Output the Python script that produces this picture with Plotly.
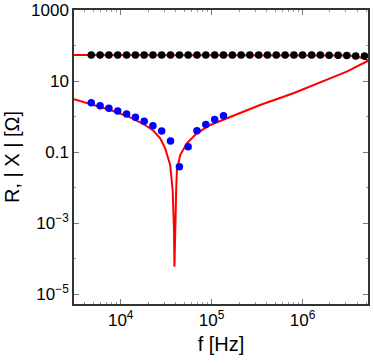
import plotly.graph_objects as go

# measured frequencies [Hz]
f_meas = [4740, 5930, 7410, 9270, 11600, 14500, 18100, 22600, 28200, 35300,
          44200, 55200, 69000, 86300, 108000, 135000, 169000, 211000, 263000, 329000,
          411000, 514000, 643000, 804000, 1000000, 1260000, 1570000, 1960000, 2460000,
          3070000, 3840000, 4800000]
# measured resistance R [Ohm]
R_meas = [54, 54, 54, 54, 54, 54, 54, 54, 54, 54,
          54, 54, 54, 54, 54, 54, 54, 54, 54, 54,
          54, 54, 54, 54, 54, 54, 54, 53, 53, 52, 51, 51]
# measured |X| [Ohm] (first 16 frequencies)
X_meas = [2.45, 2.02, 1.70, 1.43, 1.18, 0.95, 0.73, 0.55, 0.39, 0.204,
          0.0385, 0.141, 0.40, 0.60, 0.83, 1.05]

# model curves
f_R_model = [3062, 2512000, 3162000, 3802000, 4467000, 5284000]
R_model = [54, 54, 52.5, 50, 45, 38]

f_X_model = [3062, 4624, 7674, 12710, 17820, 22910, 27160, 30830, 33500, 34990,
             37240, 38550, 38990, 39540, 40740, 41500, 45080, 53330, 68710, 96390,
             146900, 223400, 341200, 792500, 1845000, 3062000, 5284000]
X_model = [3.05, 2.25, 1.52, 0.948, 0.615, 0.398, 0.243, 0.127, 0.0665, 0.0431,
           0.00851, 0.00063, 5.9e-5, 0.00063, 0.00851, 0.0311, 0.0822, 0.176, 0.337, 0.577,
           0.889, 1.36, 2.11, 4.51, 10.7, 18.3, 37.3]

x_tickvals = [1e4, 1e5, 1e6]
x_ticktext = ["10<sup>4</sup>", "10<sup>5</sup>", "10<sup>6</sup>"]
y_tickvals = [1e-5, 1e-3, 0.1, 10, 1000]
y_ticktext = ["10<sup>−5</sup>", "10<sup>−3</sup>", "0.1", "10", "1000"]
y_minor = [1e-4, 1e-2, 1, 100]
x_minor = [m * 10 ** k for k in (3, 4, 5, 6) for m in (2, 3, 4, 5, 6, 7, 8, 9)]

fig = go.Figure()
fig.add_trace(go.Scatter(x=f_R_model, y=R_model, mode="lines",
                         line=dict(color="#ff0000", width=2), showlegend=False))
fig.add_trace(go.Scatter(x=f_X_model, y=X_model, mode="lines",
                         line=dict(color="#ff0000", width=2), showlegend=False))
fig.add_trace(go.Scatter(x=f_meas, y=R_meas, mode="markers",
                         marker=dict(color="black", size=7.5), showlegend=False))
fig.add_trace(go.Scatter(x=f_meas[:len(X_meas)], y=X_meas, mode="markers",
                         marker=dict(color="#0000ff", size=7.5), showlegend=False))

font = "Liberation Sans, Arial, sans-serif"
fig.update_layout(
    width=374, height=363,
    margin=dict(l=74, r=6, t=10, b=59, autoexpand=False),
    plot_bgcolor="white", paper_bgcolor="white",
    font=dict(family=font, size=17, color="black"),
)
fig.update_xaxes(
    type="log", range=[3.486, 6.72], automargin=False,
    tickmode="array", tickvals=x_tickvals, ticktext=x_ticktext,
    ticks="inside", ticklen=5, tickcolor="#777", mirror="ticks",
    showline=True, linecolor="#333", linewidth=1.5, showgrid=False, zeroline=False,
    minor=dict(tickmode="array", tickvals=x_minor, ticks="inside", ticklen=2.5,
               tickcolor="#999", showgrid=False),
    tickfont=dict(size=17),
    title=dict(text="f [Hz]", font=dict(size=20), standoff=8),
)
fig.update_yaxes(
    type="log", range=[-5.28, 3.0], automargin=False,
    tickmode="array", tickvals=y_tickvals, ticktext=y_ticktext,
    ticks="inside", ticklen=5, tickcolor="#777", mirror="ticks",
    showline=True, linecolor="#333", linewidth=1.5, showgrid=False, zeroline=False,
    minor=dict(tickmode="array", tickvals=y_minor, ticks="inside", ticklen=2.5,
               tickcolor="#999", showgrid=False),
    tickfont=dict(size=17),
    title=dict(text="R, | X | [Ω]", font=dict(size=20), standoff=6),
)
fig.write_html("out.html", config={"displayModeBar": False},
               post_script="document.body.style.margin='0';document.body.style.overflow='hidden';")
